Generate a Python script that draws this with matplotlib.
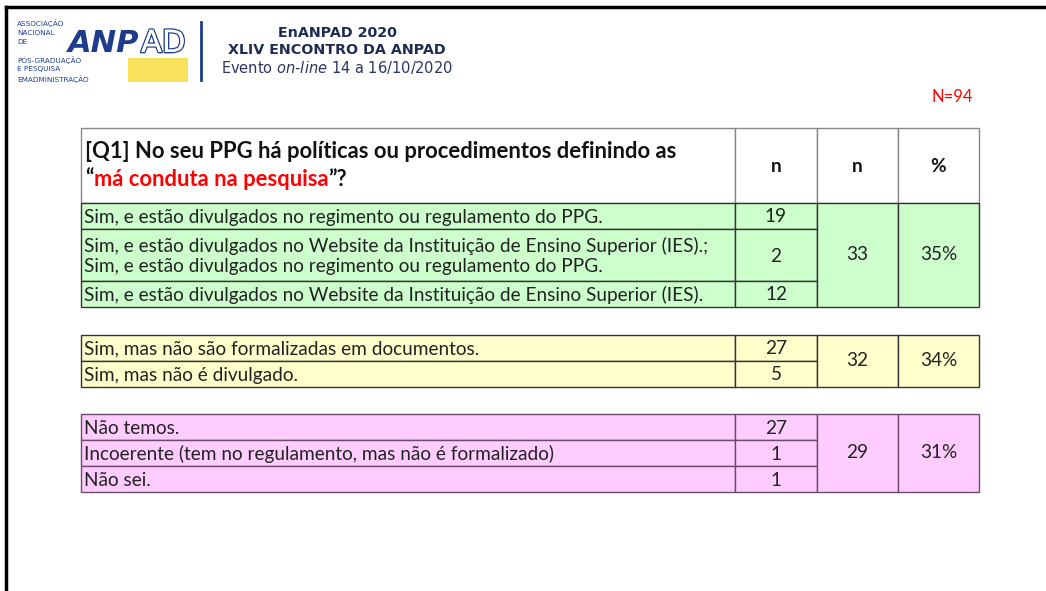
import matplotlib.pyplot as plt
from matplotlib.patches import Rectangle
import matplotlib.patheffects as pe

# table data
labels = [
    "Sim, e estão divulgados no regimento ou regulamento do PPG.",
    "Sim, e estão divulgados no Website da Instituição de Ensino Superior (IES).;\n"
    "Sim, e estão divulgados no regimento ou regulamento do PPG.",
    "Sim, e estão divulgados no Website da Instituição de Ensino Superior (IES).",
    "Sim, mas não são formalizadas em documentos.",
    "Sim, mas não é divulgado.",
    "Não temos.",
    "Incoerente (tem no regulamento, mas não é formalizado)",
    "Não sei.",
]
counts = [19, 2, 12, 27, 5, 27, 1, 1]
groups = [0, 0, 0, 1, 1, 2, 2, 2]
group_totals = [33, 32, 29]
group_pcts = ["35%", "34%", "31%"]
group_colors = ["#ccffcc", "#ffffcc", "#ffccff"]
group_edges = ["#333333", "#333333", "#6b4a6b"]
N_total = 94

fig = plt.figure(figsize=(10.46, 5.91), dpi=100)
ax = fig.add_axes([0, 0, 1, 1])
ax.set_xlim(0, 1046)
ax.set_ylim(591, 0)
ax.axis("off")

FONT = "Lato"
TXT = "#222222"
FS = 13.7

# slide frame (top + left)
ax.plot([6, 1046], [7, 7], color="black", lw=2.5)
ax.plot([6, 6], [7, 591], color="black", lw=2.5)

# ---- logo ----
blue = "#1d3c8c"
ax.text(17, 19, "ASSOCIAÇÃO\nNACIONAL\nDE", fontsize=5.2, color=blue, va="top",
        linespacing=1.6)
ax.text(17, 56, "PÓS-GRADUAÇÃO\nE PESQUISA\nEMADMINISTRAÇÃO", fontsize=5.2, color=blue,
        va="top", linespacing=1.45)
ax.add_patch(Rectangle((128, 58), 60, 24, color="#f8e25c", lw=0))
ax.text(68, 52, "ANP", fontsize=22, fontweight="bold", fontstyle="italic", color=blue,
        va="baseline", family="DejaVu Sans")
ax.text(141, 52, "AD", fontsize=22, color="white", va="baseline", family="DejaVu Sans",
        path_effects=[pe.withStroke(linewidth=2.0, foreground=blue),
                      pe.Normal()])
ax.plot([201, 201], [22, 80], color=blue, lw=2)

navy = "#1f2b55"
ax.text(337, 33, "EnANPAD 2020", fontsize=10.3, fontweight="bold", color=navy,
        ha="center", va="center", family="DejaVu Sans")
ax.text(337, 50, "XLIV ENCONTRO DA ANPAD", fontsize=10.3, fontweight="bold", color=navy,
        ha="center", va="center", family="DejaVu Sans")
ax.text(337, 67, "Evento $\\it{on}$-$\\it{line}$ 14 a 16/10/2020", fontsize=10.5,
        color="#2a3560", ha="center", va="center", family="DejaVu Sans")

ax.text(952, 97, f"N={N_total}", fontsize=12, color="red", ha="center", va="center",
        family=FONT)

# ---- table ----
x0, x1, x2, x3, x4 = 81, 735, 817, 898, 979

# header
hy0, hy1 = 128, 203
for a, b in [(x0, x1), (x1, x2), (x2, x3), (x3, x4)]:
    ax.add_patch(Rectangle((a, hy0), b - a, hy1 - hy0, facecolor="white",
                           edgecolor="#888888", lw=1))
QFS = 15.8
ax.text(85, 152, "[Q1] No seu PPG há políticas ou procedimentos definindo as",
        fontsize=QFS, fontweight="bold", color="#111111", va="center", family=FONT)
t = ax.text(85, 179, "“", fontsize=QFS, fontweight="bold", color="#111111",
            va="center", family=FONT)
t2 = ax.annotate("má conduta na pesquisa", xycoords=t, xy=(1, 0.5), va="center",
                 fontsize=QFS, fontweight="bold", color="red", family=FONT)
ax.annotate("”?", xycoords=t2, xy=(1, 0.5), va="center",
            fontsize=QFS, fontweight="bold", color="#111111", family=FONT)
for xc, s in [((x1 + x2) / 2, "n"), ((x2 + x3) / 2, "n"), ((x3 + x4) / 2, "%")]:
    ax.text(xc, 166, s, fontsize=FS, fontweight="bold", color="#111111",
            ha="center", va="center", family=FONT)

# body rows
row_h = 26
group_top = [203, 335, 414]
for g in range(len(group_totals)):
    top = group_top[g]
    cur = top
    idx = [i for i, gg in enumerate(groups) if gg == g]
    for i in idx:
        nl = labels[i].count("\n") + 1
        h = row_h * nl
        ax.add_patch(Rectangle((x0, cur), x1 - x0, h, facecolor=group_colors[g],
                               edgecolor=group_edges[g], lw=1))
        ax.add_patch(Rectangle((x1, cur), x2 - x1, h, facecolor=group_colors[g],
                               edgecolor=group_edges[g], lw=1))
        ax.text(84, cur + h / 2 + 1, labels[i], fontsize=FS, color=TXT, va="center",
                family=FONT, linespacing=1.2)
        ax.text((x1 + x2) / 2, cur + h / 2 + 1, str(counts[i]), fontsize=FS, color=TXT,
                ha="center", va="center", family=FONT)
        cur += h
    bottom = cur
    for a, b, s in [(x2, x3, str(group_totals[g])), (x3, x4, group_pcts[g])]:
        ax.add_patch(Rectangle((a, top), b - a, bottom - top, facecolor=group_colors[g],
                               edgecolor=group_edges[g], lw=1))
        ax.text((a + b) / 2, (top + bottom) / 2, s, fontsize=FS, color=TXT,
                ha="center", va="center", family=FONT)

fig.savefig("out.png", dpi=100)
